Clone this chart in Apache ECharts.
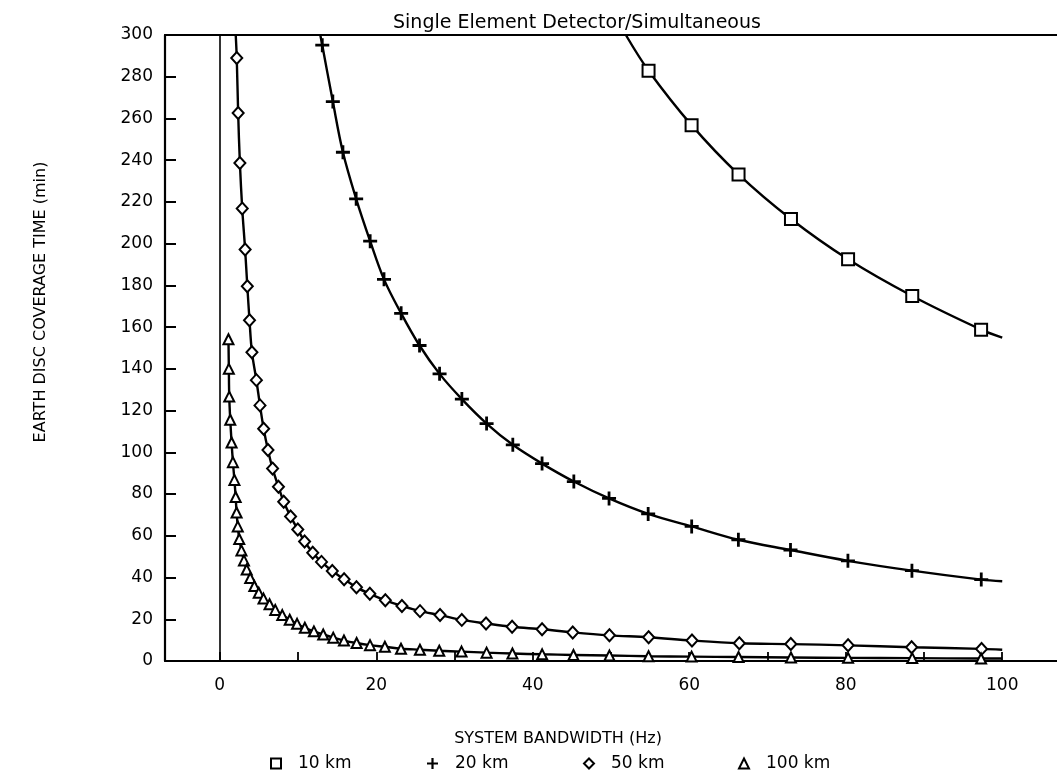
<!DOCTYPE html>
<html><head><meta charset="utf-8">
<script src="https://cdn.jsdelivr.net/npm/echarts@6/dist/echarts.min.js"></script>
<style>html,body{margin:0;padding:0;background:#fff}#c{width:1057px;height:782px}</style>
</head><body><div id="c"></div>
<script>
// ---------- data ----------
const titleText = 'Single Element Detector/Simultaneous';
const xAxisName = 'SYSTEM BANDWIDTH (Hz)';
const yAxisName = 'EARTH DISC COVERAGE TIME (min)';
const seriesNames = ['10 km', '20 km', '50 km', '100 km'];
const xTickLabels = [0, 20, 40, 60, 80, 100];
const xTickMarks = [0, 10, 20, 30, 40, 50, 60, 70, 80, 90, 100];

// 10 km (squares)
const tenKmStart = [51.9, 300];
const tenKmMarkers = [[54.8,282.9],[60.3,256.8],[66.3,233.2],[73.0,211.8],[80.3,192.5],[88.5,174.9],[97.3,158.8]];
const tenKmEnd = [100, 155.0];

// 20 km (plus)
const twentyKmStart = [12.85, 300];
const twentyKmMarkers = [[13.1,295.1],[14.45,268.1],[15.74,243.8],[17.43,221.5],[19.22,201.2],[20.99,182.9],[23.18,166.6],[25.53,151.2],[28.09,137.6],[30.94,125.5],[34.10,113.8],[37.45,103.6],[41.19,94.6],[45.25,86.0],[49.75,77.9],[54.75,70.5],[60.31,64.5],[66.28,58.1],[72.94,53.2],[80.28,48.0],[88.46,43.3],[97.32,39.0]];
const twentyKmEnd = [100, 38.2];

// 50 km (diamonds)
const fiftyKmStart = [2.04, 300];
const fiftyKmMarkers = [[2.17,289.0],[2.35,262.6],[2.57,238.7],[2.87,216.8],[3.24,197.2],[3.52,179.6],[3.80,163.3],[4.11,148.0],[4.68,134.6],[5.14,122.5],[5.61,111.3],[6.16,101.1],[6.75,92.2],[7.50,83.5],[8.17,76.3],[9.05,69.3],[9.97,63.0],[10.84,57.3],[11.88,51.9],[13.0,47.5],[14.38,43.1],[15.89,39.2],[17.47,35.3],[19.18,32.2],[21.16,29.1],[23.28,26.4],[25.59,23.9],[28.15,22.0],[30.93,19.7],[34.03,18.0],[37.36,16.4],[41.19,15.2],[45.11,13.7],[49.8,12.3],[54.81,11.4],[60.35,9.8],[66.4,8.5],[72.98,8.1],[80.3,7.5],[88.42,6.6],[97.36,5.8]];
const fiftyKmEnd = [100, 5.4];

// 100 km (triangles)
const hundredKmStart = null;
const hundredKmMarkers = [[1.11,154.2],[1.16,140.0],[1.21,126.7],[1.34,115.6],[1.51,104.7],[1.68,95.3],[1.87,86.8],[2.03,78.6],[2.15,71.2],[2.30,64.5],[2.49,58.5],[2.77,53.0],[3.09,48.2],[3.44,43.8],[3.89,39.8],[4.42,35.9],[4.98,32.7],[5.59,29.9],[6.36,27.2],[7.09,24.5],[7.99,22.0],[8.94,19.8],[9.88,17.8],[10.87,15.9],[12.03,14.2],[13.22,12.7],[14.5,11.2],[15.87,9.8],[17.49,8.6],[19.2,7.6],[21.1,6.8],[23.16,5.9],[25.58,5.4],[28.05,4.9],[30.9,4.5],[34.1,4.0],[37.4,3.6],[41.2,3.2],[45.2,2.9],[49.8,2.6],[54.8,2.3],[60.3,2.1],[66.3,1.9],[73.0,1.7],[80.3,1.5],[88.5,1.4],[97.3,1.2]];
const hundredKmEnd = [100, 1.2];

// ---------- styling / building ----------
const FONT = 'DejaVu Sans';
const BLACK = '#000';
const PLUS = 'path://M-1.2,-6L1.2,-6L1.2,-1.2L6,-1.2L6,1.2L1.2,1.2L1.2,6L-1.2,6L-1.2,1.2L-6,1.2L-6,-1.2L-1.2,-1.2Z';
const hollow = {color: '#fff', borderColor: BLACK, borderWidth: 2};
const solid = {color: BLACK, borderWidth: 0};

const curves = [
  {start: tenKmStart, markers: tenKmMarkers, end: tenKmEnd, symbol: 'rect', size: 12, item: hollow},
  {start: twentyKmStart, markers: twentyKmMarkers, end: twentyKmEnd, symbol: PLUS, size: 14, item: solid},
  {start: fiftyKmStart, markers: fiftyKmMarkers, end: fiftyKmEnd, symbol: 'diamond', size: [11, 12], item: hollow},
  {start: hundredKmStart, markers: hundredKmMarkers, end: hundredKmEnd, symbol: 'triangle', size: [10, 10], item: hollow}
];

const series = curves.map((c, i) => {
  const data = [];
  if (c.start) data.push({value: c.start, symbol: 'none'});
  c.markers.forEach(p => data.push({value: p}));
  if (c.end) data.push({value: c.end, symbol: 'none'});
  const s = {
    name: seriesNames[i],
    type: 'line',
    data: data,
    smooth: 0.35,
    symbol: c.symbol,
    symbolSize: c.size,
    showAllSymbol: true,
    lineStyle: {color: BLACK, width: 2.4},
    itemStyle: c.item,
    z: 3 + i,
    animation: false
  };
  if (i === 0) {
    s.markLine = {
      silent: true, symbol: 'none', label: {show: false},
      lineStyle: {color: BLACK, width: 1.6, type: 'solid'},
      data: [{xAxis: 0}], animation: false
    };
  }
  return s;
});

const legendLeft = [265, 422, 578, 733];
const legendIcons = ['rect', PLUS, 'diamond', 'triangle'];
const legends = seriesNames.map((n, i) => ({
  data: [{name: n, icon: legendIcons[i], itemStyle: i === 1 ? solid : hollow}],
  left: legendLeft[i], top: 750, itemWidth: i === 1 ? 11 : 10, itemHeight: i === 1 ? 11 : 10,
  selectedMode: false,
  textStyle: {fontFamily: FONT, fontSize: 17, color: BLACK, padding: [0, 0, 0, 12]}
}));

const axisLine = {show: true, onZero: false, lineStyle: {color: BLACK, width: 2.2}};

const option = {
  backgroundColor: '#fff',
  animation: false,
  title: {text: titleText, left: 388, top: 9,
    textStyle: {fontFamily: FONT, fontSize: 19, fontWeight: 'normal', color: BLACK}},
  legend: legends,
  grid: {left: 165, right: 0, top: 35, bottom: 121},
  xAxis: [{
    type: 'value', min: -7, max: 107, position: 'bottom',
    axisLine: axisLine,
    axisTick: {show: true, inside: true, length: 9, customValues: xTickMarks, lineStyle: {color: BLACK, width: 1.8}},
    axisLabel: {customValues: xTickLabels, fontFamily: FONT, fontSize: 17, color: BLACK, margin: 16},
    splitLine: {show: false},
    name: xAxisName, nameLocation: 'middle', nameGap: 70,
    nameTextStyle: {fontFamily: FONT, fontSize: 16, color: BLACK, padding: [0, 106, 0, 0]}
  }, {
    type: 'value', min: -7, max: 107, position: 'top',
    axisLine: axisLine, axisTick: {show: false}, axisLabel: {show: false}, splitLine: {show: false}
  }],
  yAxis: {
    type: 'value', min: 0, max: 300, interval: 20,
    axisLine: axisLine,
    axisTick: {show: true, inside: true, length: 11, lineStyle: {color: BLACK, width: 2}},
    axisLabel: {fontFamily: FONT, fontSize: 17, color: BLACK, margin: 12},
    splitLine: {show: false},
    name: yAxisName, nameLocation: 'middle', nameRotate: 90, nameGap: 116,
    nameTextStyle: {fontFamily: FONT, fontSize: 16, color: BLACK, padding: [0, 0, 0, 92]}
  },
  series: series
};

const chart = echarts.init(document.getElementById('c'), null, {renderer: 'canvas'});
chart.setOption(option);
</script>
</body></html>
